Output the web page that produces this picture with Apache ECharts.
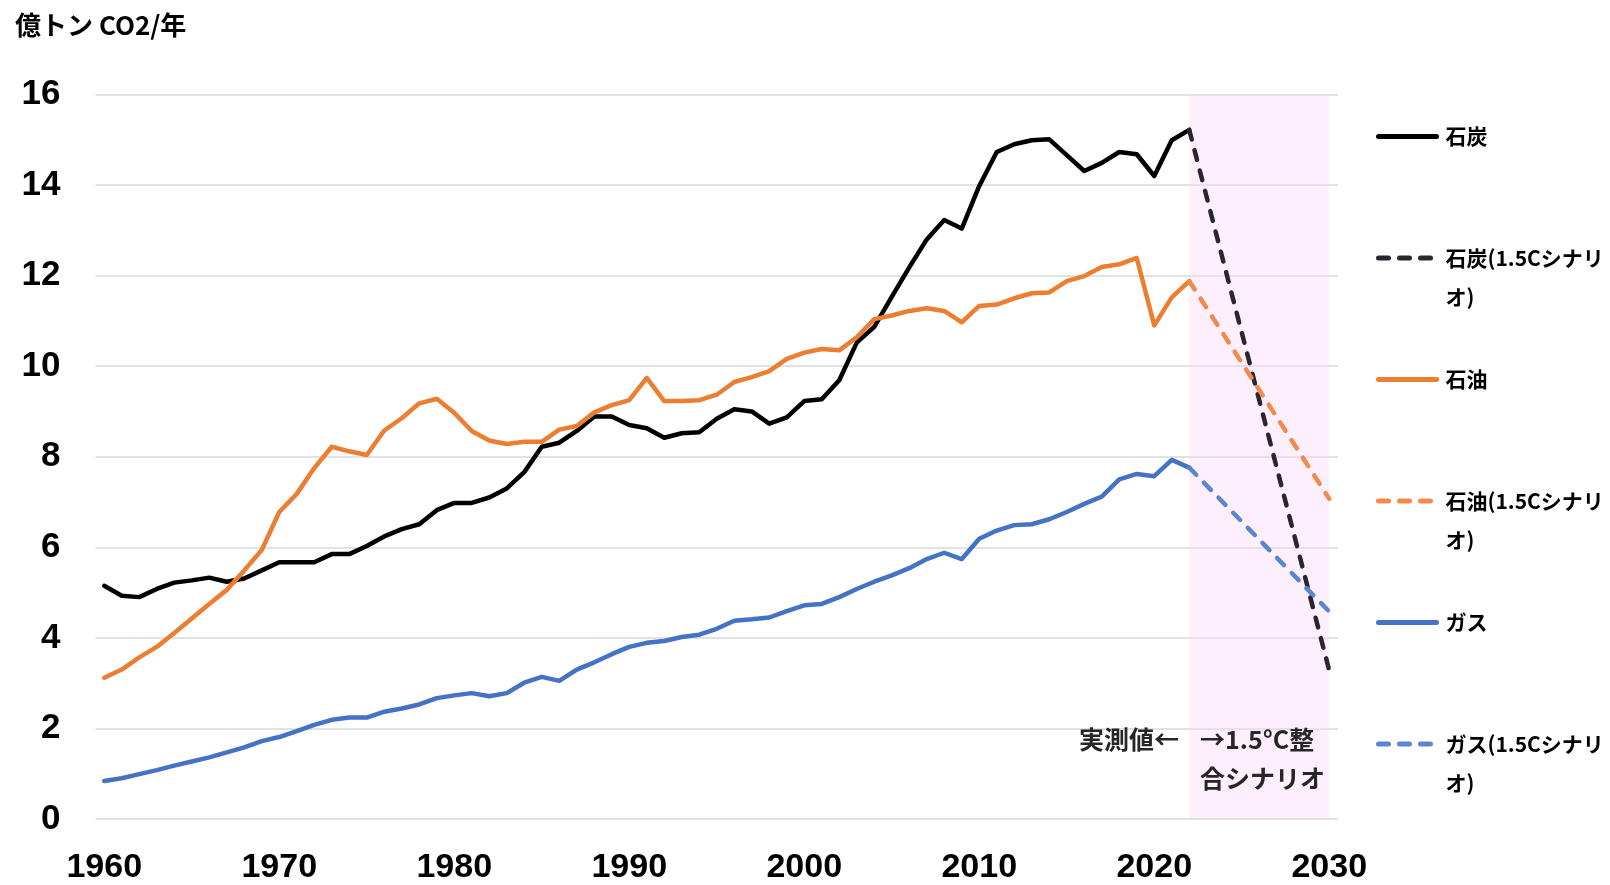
<!DOCTYPE html>
<html>
<head>
<meta charset="utf-8">
<title>化石燃料別CO2排出量</title>
<script src="https://cdn.jsdelivr.net/npm/echarts@6/dist/echarts.min.js"></script>
<style>
  html, body { margin: 0; padding: 0; background: #fff; }
  #chart { width: 1610px; height: 885px; }
</style>
</head>
<body>
<div id="chart"></div>
<script>
  // カテゴリ（年）
  const years = [];
  for (let y = 1960; y <= 2030; y++) years.push(String(y));

  // 実測値 1960-2022（億トン CO2/年）
  const coal = [5.15, 4.93, 4.90, 5.08, 5.22, 5.27, 5.33, 5.24, 5.31, 5.49,
    5.67, 5.67, 5.67, 5.85, 5.85, 6.03, 6.24, 6.40, 6.51, 6.82,
    6.98, 6.98, 7.10, 7.30, 7.66, 8.22, 8.31, 8.57, 8.89, 8.89,
    8.70, 8.63, 8.42, 8.52, 8.54, 8.84, 9.05, 9.00, 8.73, 8.87,
    9.23, 9.27, 9.69, 10.52, 10.87, 11.53, 12.18, 12.80, 13.23, 13.04,
    13.98, 14.73, 14.90, 14.99, 15.01, 14.66, 14.31, 14.49, 14.73, 14.68,
    14.20, 14.99, 15.22];
  const oil = [3.12, 3.30, 3.57, 3.80, 4.11, 4.43, 4.75, 5.06, 5.49, 5.94,
    6.78, 7.18, 7.75, 8.22, 8.12, 8.04, 8.58, 8.85, 9.18, 9.28,
    8.97, 8.57, 8.36, 8.28, 8.33, 8.33, 8.60, 8.68, 8.98, 9.14,
    9.25, 9.74, 9.23, 9.23, 9.25, 9.37, 9.65, 9.76, 9.89, 10.16,
    10.30, 10.38, 10.35, 10.64, 11.04, 11.12, 11.22, 11.28, 11.22, 10.97,
    11.33, 11.36, 11.50, 11.61, 11.63, 11.88, 11.99, 12.19, 12.25, 12.39,
    10.90, 11.52, 11.88];
  const gas = [0.84, 0.90, 0.99, 1.08, 1.18, 1.27, 1.36, 1.47, 1.58, 1.72,
    1.81, 1.94, 2.08, 2.19, 2.24, 2.24, 2.37, 2.44, 2.53, 2.67,
    2.73, 2.78, 2.71, 2.78, 3.01, 3.14, 3.05, 3.30, 3.46, 3.64,
    3.80, 3.89, 3.93, 4.02, 4.07, 4.20, 4.38, 4.41, 4.45, 4.59,
    4.72, 4.75, 4.90, 5.08, 5.24, 5.38, 5.54, 5.74, 5.88, 5.74,
    6.19, 6.37, 6.49, 6.51, 6.62, 6.78, 6.96, 7.12, 7.50, 7.62,
    7.57, 7.93, 7.76];

  // 1.5℃整合シナリオ（2022年 → 2030年）
  const scenarioYears = ['2022', '2030'];
  const coalScenario = [15.22, 3.28];
  const oilScenario = [11.88, 7.07];
  const gasScenario = [7.76, 4.58];

  const jpFont = '"Noto Sans CJK JP", "Noto Sans", sans-serif';
  const numFont = '"Liberation Sans", Arial, sans-serif';

  const myChart = echarts.init(document.getElementById('chart'));

  function pairs(values) {
    return scenarioYears.map((y, i) => [y, values[i]]);
  }

  function solidSeries(name, data, color) {
    return {
      name: name,
      type: 'line',
      data: data,
      symbol: 'none',
      showSymbol: false,
      z: 3,
      lineStyle: { color: color, width: 4.5, join: 'round', cap: 'round' },
      itemStyle: { color: color }
    };
  }

  function dashedSeries(name, data, color) {
    return {
      name: name,
      type: 'line',
      data: pairs(data),
      symbol: 'none',
      showSymbol: false,
      z: 3,
      lineStyle: { color: color, width: 4.5, type: [10, 11], cap: 'round', join: 'round' },
      itemStyle: { color: color }
    };
  }

  const coalLine = solidSeries('石炭', coal, '#000000');
  // 2022-2030 の背景帯
  coalLine.markArea = {
    silent: true,
    itemStyle: { color: '#FBD9F8', opacity: 0.4 },
    data: [[{ xAxis: '2022' }, { xAxis: '2030' }]]
  };

  let option = {
    backgroundColor: '#ffffff',
    animation: false,
    title: {
      text: '億トン CO2/年',
      left: 15,
      top: 12,
      padding: 0,
      textStyle: { fontFamily: jpFont, fontSize: 26, fontWeight: 'bold', color: '#000' }
    },
    grid: { left: 95.5, right: 272, top: 94.5, bottom: 63.5, containLabel: false },
    legend: {
      orient: 'vertical',
      left: 1376,
      top: 117,
      padding: 0,
      itemWidth: 58,
      itemHeight: 2,
      itemGap: 43.5,
      // 凡例は線だけ（中央の丸は消す）
      itemStyle: { opacity: 0 },
      lineStyle: { width: 5 },
      textStyle: {
        fontFamily: jpFont, fontSize: 21, fontWeight: 'bold', color: '#000',
        lineHeight: 39, padding: [0, 0, 0, 4]
      },
      formatter: function (name) {
        // 2行目を「オ)」にし、1行目を凡例記号に揃える
        if (name.indexOf('シナリオ') >= 0) {
          return '\n' + name.replace('オ)', '\nオ)');
        }
        return name;
      },
      data: ['石炭', '石炭(1.5Cシナリオ)', '石油', '石油(1.5Cシナリオ)', 'ガス', 'ガス(1.5Cシナリオ)']
    },
    xAxis: {
      type: 'category',
      data: years,
      boundaryGap: true,
      axisLine: { show: false },
      axisTick: { show: false },
      axisLabel: {
        interval: 9,
        margin: 32,
        fontFamily: numFont,
        fontSize: 34,
        fontWeight: 'bold',
        color: '#000'
      }
    },
    yAxis: {
      type: 'value',
      min: 0,
      max: 16,
      interval: 2,
      axisLine: { show: false },
      axisTick: { show: false },
      axisLabel: {
        margin: 35,
        fontFamily: numFont,
        fontSize: 35,
        fontWeight: 'bold',
        color: '#000'
      },
      splitLine: { lineStyle: { color: '#d9d9d9', width: 1.5 } }
    },
    graphic: [
      {
        type: 'text',
        x: 1179,
        y: 739,
        z: 100,
        style: {
          text: '実測値←',
          align: 'right',
          verticalAlign: 'middle',
          font: 'bold 25px "Noto Sans CJK JP", sans-serif',
          fill: '#262626'
        }
      },
      {
        type: 'text',
        x: 1200,
        y: 758.5,
        z: 100,
        style: {
          text: '→1.5°C整\n合シナリオ',
          align: 'left',
          verticalAlign: 'middle',
          lineHeight: 39,
          font: 'bold 25px "Noto Sans CJK JP", sans-serif',
          fill: '#262626'
        }
      }
    ],
    series: [
      coalLine,
      dashedSeries('石炭(1.5Cシナリオ)', coalScenario, '#2b2530'),
      solidSeries('石油', oil, '#ED7D31'),
      dashedSeries('石油(1.5Cシナリオ)', oilScenario, '#F28A4C'),
      solidSeries('ガス', gas, '#4472C4'),
      dashedSeries('ガス(1.5Cシナリオ)', gasScenario, '#5A85CF')
    ]
  };

  myChart.setOption(option);
</script>
</body>
</html>
